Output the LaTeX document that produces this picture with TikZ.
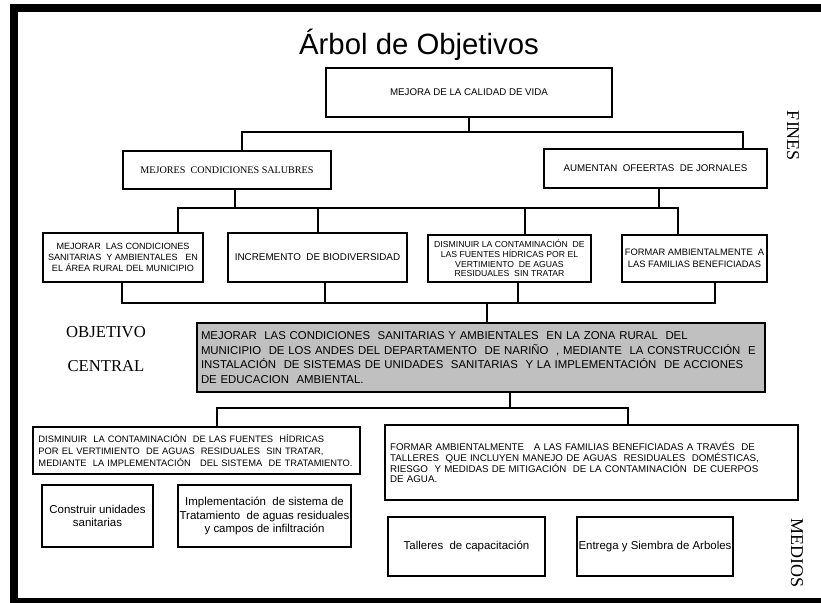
\documentclass[tikz,border=0pt]{standalone}
\usepackage{fontspec}
\setmainfont{Liberation Sans}
\newfontfamily\serifface{Liberation Serif}
\usetikzlibrary{calc}
\definecolor{centralgray}{RGB}{192,192,192}
\newcommand{\fs}[2]{\fontsize{#1}{#2}\selectfont}
\begin{document}
\begin{tikzpicture}[x=0.75pt,y=-0.75pt,
  cell/.style={draw=black,line width=1.5pt,fill=white,inner sep=0pt,align=center},
  conn/.style={draw=black,line width=2pt},
  sidelabel/.style={font=\serifface\fs{13.5}{14},rotate=-90,inner sep=0pt},
  levellabel/.style={font=\serifface\fs{12.5}{14},inner sep=0pt}]
\useasboundingbox (0,0) rectangle (821,603);
\fill[white] (0,0) rectangle (821,603);

% outer frame (runs past the right and bottom edges of the page)
\begin{scope}
  \clip (0,0) rectangle (821,603);
  \draw[line width=6pt] (840,8) -- (14,8) -- (14,602) -- (840,602);
\end{scope}

% title
\node[inner sep=0pt,font=\fs{22}{24}] (title) at (419,45) {Árbol de Objetivos};

% ends
\node[cell,minimum width=214.5pt,minimum height=36.75pt,font=\fs{7.3}{9}] (m1) at (469,92.5) {MEJORA DE LA CALIDAD DE VIDA};
\node[cell,minimum width=156pt,minimum height=28.5pt,font=\serifface\fs{7.6}{9}] (mL) at (227,170) {MEJORES\ \ CONDICIONES SALUBRES};
\node[cell,minimum width=167.25pt,minimum height=29.25pt,font=\fs{7.3}{9}] (mR) at (655.5,168.5) {AUMENTAN\ \ OFEERTAS\ \ DE JORNALES};

\node[cell,minimum width=120pt,minimum height=36.75pt,font=\fs{6.8}{8.2}] (a) at (123,257.5)
  {MEJORAR\ \ LAS CONDICIONES\\SANITARIAS\ \ Y AMBIENTALES\ \ \ EN\\EL ÁREA RURAL DEL MUNICIPIO};
\node[cell,minimum width=134.25pt,minimum height=36.75pt,font=\fs{7.4}{9}] (b) at (317.5,257.5) {INCREMENTO\ \ DE BIODIVERSIDAD};
\node[cell,minimum width=122.25pt,minimum height=35.25pt,font=\fs{6.5}{7.3}] (c) at (509.5,258.5)
  {DISMINUIR LA CONTAMINACIÓN\ \ DE\\LAS FUENTES HÍDRICAS POR EL\\VERTIMIENTO\ \ DE AGUAS\\RESIDUALES\ \ SIN TRATAR};
\node[cell,minimum width=108.75pt,minimum height=35.25pt,font=\fs{7}{8.8}] (d) at (694.5,258.5)
  {FORMAR AMBIENTALMENTE\ \ A\\LAS FAMILIAS BENEFICIADAS};

\node[sidelabel] (fines) at (793,136) {FINES};

% central objective
\node[levellabel] (lab1) at (106,332) {OBJETIVO};
\node[levellabel] (lab2) at (106,366) {CENTRAL};
\node[draw=black,line width=1.8pt,fill=centralgray,inner sep=0pt,minimum width=426pt,minimum height=51.75pt,
      text width=420pt,align=left,font=\fs{8.55}{11}] (obj) at (481,357.5)
  {MEJORAR\ \ LAS CONDICIONES\ \ SANITARIAS Y AMBIENTALES\ \ EN LA ZONA RURAL\ \ DEL\\
   MUNICIPIO\ \ DE LOS ANDES DEL DEPARTAMENTO\ \ DE NARIÑO\ \ , MEDIANTE\ \ LA CONSTRUCCIÓN\ \ E\\
   INSTALACIÓN\ \ DE SISTEMAS DE UNIDADES\ \ SANITARIAS\ \ Y LA IMPLEMENTACIÓN\ \ DE ACCIONES\\
   DE EDUCACION\ \ AMBIENTAL.};

% means
\node[cell,minimum width=245.25pt,minimum height=35.25pt,text width=237pt,align=left,font=\fs{7}{9}] (e) at (196.5,450.5)
  {DISMINUIR\ \ LA CONTAMINACIÓN\ \ DE LAS FUENTES\ \ HÍDRICAS\\
   POR EL VERTIMIENTO\ \ DE AGUAS\ \ RESIDUALES\ \ SIN TRATAR,\\
   MEDIANTE\ \ LA IMPLEMENTACIÓN\ \ \ DEL SISTEMA\ \ DE TRATAMIENTO.};
\node[cell,minimum width=309.75pt,minimum height=56.25pt,text width=302pt,align=left,font=\fs{7.3}{8.1}] (f) at (591.5,462.5)
  {FORMAR AMBIENTALMENTE\ \ \ A LAS FAMILIAS BENEFICIADAS A TRAVÉS\ \ DE\\
   TALLERES\ \ QUE INCLUYEN MANEJO DE AGUAS\ \ RESIDUALES\ \ DOMÉSTICAS,\\
   RIESGO\ \ Y MEDIDAS DE MITIGACIÓN\ \ DE LA CONTAMINACIÓN\ \ DE CUERPOS\\
   DE AGUA.};
\node[cell,minimum width=83.25pt,minimum height=46.5pt,font=\fs{8.6}{10}] (g) at (97.5,516)
  {Construir unidades\\sanitarias};
\node[cell,minimum width=129.75pt,minimum height=46.5pt,font=\fs{8.6}{10}] (h) at (264.5,516)
  {Implementación\ \ de sistema de\\Tratamiento\ \ de aguas residuales\\y campos de infiltración};
\node[cell,minimum width=117.75pt,minimum height=44.25pt,font=\fs{8.6}{10}] (i) at (466.5,546.5)
  {Talleres\ \ de capacitación};
\node[cell,minimum width=117pt,minimum height=44.25pt,font=\fs{8.6}{10}] (j) at (655,546.5)
  {Entrega y Siembra de Arboles};

\node[sidelabel] (medios) at (797,553) {MEDIOS};

% junction points of the tree
\coordinate (t1) at (469,132);
\coordinate (l1a) at (242,132);
\coordinate (l1b) at (743,132);
\coordinate (s2L) at (235,208);
\coordinate (s2R) at (659,208);
\coordinate (l2a) at (178,208);
\coordinate (l2b) at (678,208);
\coordinate (k2b) at (318,208);
\coordinate (k2c) at (525,208);
\coordinate (l3a) at (122,303);
\coordinate (l3d) at (715,303);
\coordinate (k3b) at (325,303);
\coordinate (k3c) at (518,303);
\coordinate (k3o) at (487,303);
\coordinate (t4) at (510,408);
\coordinate (l4e) at (217,408);
\coordinate (l4f) at (628,408);

% connectors
\draw[conn] (m1.south) -- (t1);
\draw[conn] (mL.north -| l1a) -- (l1a) -- (l1b) -- (mR.north -| l1b);
\draw[conn] (mL.south -| s2L) -- (s2L);
\draw[conn] (mR.south -| s2R) -- (s2R);
\draw[conn] (a.north -| l2a) -- (l2a) -- (l2b) -- (d.north -| l2b);
\draw[conn] (k2b) -- (b.north -| k2b);
\draw[conn] (k2c) -- (c.north -| k2c);
\draw[conn] (a.south -| l3a) -- (l3a) -- (l3d) -- (d.south -| l3d);
\draw[conn] (b.south -| k3b) -- (k3b);
\draw[conn] (c.south -| k3c) -- (k3c);
\draw[conn] (k3o) -- (obj.north -| k3o);
\draw[conn] (obj.south -| t4) -- (t4);
\draw[conn] (e.north -| l4e) -- (l4e) -- (l4f) -- (f.north -| l4f);
\end{tikzpicture}
\end{document}
